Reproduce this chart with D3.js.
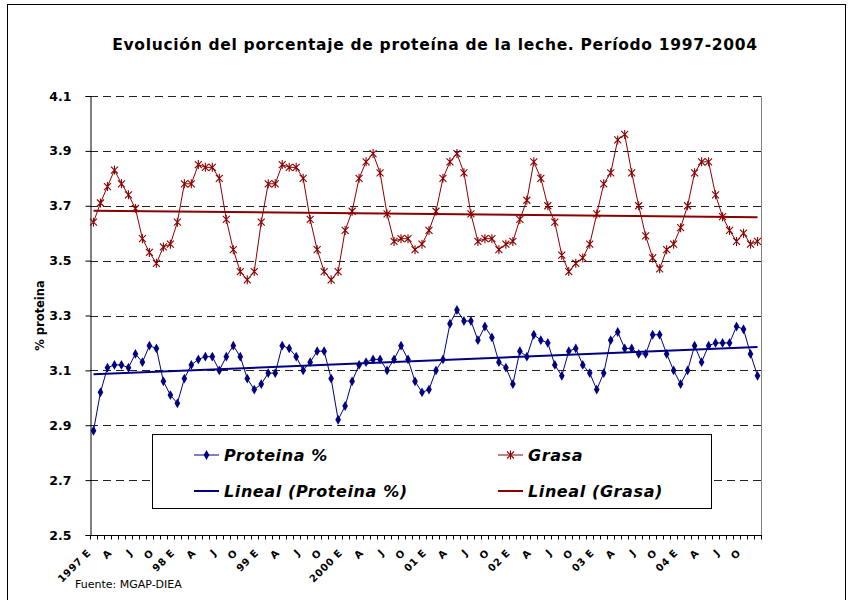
<!DOCTYPE html>
<html>
<head>
<meta charset="utf-8">
<script src="https://cdn.jsdelivr.net/npm/d3@7"></script>
<style>
  body { margin: 0; background: #fff; }
  svg { display: block; font-family: "DejaVu Sans", Verdana, sans-serif; }
</style>
</head>
<body>
<div id="chart"></div>
<script>
// monthly values, Jan 1997 .. Dec 2004
const proteina = [
  2.88, 3.02, 3.11, 3.12, 3.12, 3.11, 3.16, 3.13, 3.19, 3.18, 3.06, 3.01,
  2.98, 3.07, 3.12, 3.14, 3.15, 3.15, 3.10, 3.15, 3.19, 3.15, 3.07, 3.03,
  3.05, 3.09, 3.09, 3.19, 3.18, 3.15, 3.10, 3.13, 3.17, 3.17, 3.07, 2.92,
  2.97, 3.06, 3.12, 3.13, 3.14, 3.14, 3.10, 3.14, 3.19, 3.14, 3.06, 3.02,
  3.03, 3.10, 3.14, 3.27, 3.32, 3.28, 3.28, 3.21, 3.26, 3.22, 3.13, 3.11,
  3.05, 3.17, 3.15, 3.23, 3.21, 3.20, 3.12, 3.08, 3.17, 3.18, 3.12, 3.09,
  3.03, 3.09, 3.21, 3.24, 3.18, 3.18, 3.16, 3.16, 3.23, 3.23, 3.16, 3.10,
  3.05, 3.10, 3.19, 3.13, 3.19, 3.20, 3.20, 3.20, 3.26, 3.25, 3.16, 3.08
];
const grasa = [
  3.64, 3.71, 3.77, 3.83, 3.78, 3.74, 3.69, 3.58, 3.53, 3.49, 3.55, 3.56,
  3.64, 3.78, 3.78, 3.85, 3.84, 3.84, 3.80, 3.65, 3.54, 3.46, 3.43, 3.46,
  3.64, 3.78, 3.78, 3.85, 3.84, 3.84, 3.80, 3.65, 3.54, 3.46, 3.43, 3.46,
  3.61, 3.68, 3.80, 3.86, 3.89, 3.82, 3.67, 3.57, 3.58, 3.58, 3.54, 3.56,
  3.61, 3.68, 3.80, 3.86, 3.89, 3.82, 3.67, 3.57, 3.58, 3.58, 3.54, 3.56,
  3.57, 3.65, 3.72, 3.86, 3.80, 3.70, 3.64, 3.52, 3.46, 3.49, 3.51, 3.56,
  3.67, 3.78, 3.82, 3.94, 3.96, 3.82, 3.70, 3.59, 3.51, 3.47, 3.54, 3.56,
  3.62, 3.70, 3.82, 3.86, 3.86, 3.74, 3.66, 3.61, 3.57, 3.60, 3.56, 3.57
];
const xLabels = [
  '1997 E', 'A', 'J', 'O', '98 E', 'A', 'J', 'O', '99 E', 'A', 'J', 'O',
  '2000 E', 'A', 'J', 'O', '01 E', 'A', 'J', 'O', '02 E', 'A', 'J', 'O',
  '03 E', 'A', 'J', 'O', '04 E', 'A', 'J', 'O'
];
const yTicks = [2.5, 2.7, 2.9, 3.1, 3.3, 3.5, 3.7, 3.9, 4.1];
const legendItems = ['Proteina %', 'Grasa', 'Lineal (Proteina %)', 'Lineal (Grasa)'];

const W = 850, H = 600;
const plot = { left: 90, right: 761, top: 96, bottom: 535 };
const blue = '#000080', red = '#8b0000';

const svg = d3.select('#chart').append('svg')
  .attr('width', W).attr('height', H);

// chart frame
svg.append('rect')
  .attr('x', 7.5).attr('y', 4.5).attr('width', 838).attr('height', 640)
  .attr('fill', 'none').attr('stroke', '#000').attr('stroke-width', 1);

svg.append('text')
  .attr('x', 435).attr('y', 50)
  .attr('text-anchor', 'middle')
  .attr('font-size', 15.5).attr('font-weight', 'bold')
  .attr('letter-spacing', 0.7)
  .text('Evolución del porcentaje de proteína de la leche. Período 1997-2004');

const idx = d3.range(proteina.length);
const x = d3.scaleBand().domain(idx).range([plot.left, plot.right]);
const cx = i => x(i) + x.bandwidth() / 2;
const y = d3.scaleLinear().domain([2.5, 4.1]).range([plot.bottom, plot.top]);

// gridlines
svg.append('g')
  .selectAll('line')
  .data(yTicks.slice(1))
  .join('line')
  .attr('x1', plot.left).attr('x2', plot.right)
  .attr('y1', d => Math.round(y(d)) + 0.5).attr('y2', d => Math.round(y(d)) + 0.5)
  .attr('stroke', '#222').attr('stroke-dasharray', '8,5');

// right border of plot area
svg.append('line')
  .attr('x1', plot.right + 0.5).attr('x2', plot.right + 0.5)
  .attr('y1', plot.top).attr('y2', plot.bottom)
  .attr('stroke', '#808080');

// y axis
const yAxis = d3.axisLeft(y)
  .tickValues(yTicks)
  .tickFormat(d3.format('.1f'))
  .tickSize(5)
  .tickPadding(14);
const gy = svg.append('g')
  .attr('transform', `translate(${plot.left + 0.5},0)`)
  .call(yAxis);
gy.select('.domain').attr('stroke', '#000');
gy.selectAll('text')
  .attr('font-family', '"DejaVu Sans", Verdana, sans-serif')
  .attr('font-size', 12.5).attr('font-weight', 'bold').attr('fill', '#000');

svg.append('text')
  .attr('transform', `translate(44,${(plot.top + plot.bottom) / 2}) rotate(-90)`)
  .attr('text-anchor', 'middle')
  .attr('font-size', 11.5).attr('font-weight', 'bold')
  .text('% proteina');

// x axis
const gx = svg.append('g')
  .attr('transform', `translate(0,${plot.bottom + 0.5})`);
gx.append('line')
  .attr('x1', plot.left).attr('x2', plot.right + 1)
  .attr('stroke', '#000');
gx.selectAll('line.tick')
  .data(d3.range(proteina.length + 1))
  .join('line')
  .attr('class', 'tick')
  .attr('x1', i => Math.round(plot.left + i * x.step()) + 0.5)
  .attr('x2', i => Math.round(plot.left + i * x.step()) + 0.5)
  .attr('y1', 0).attr('y2', 4)
  .attr('stroke', '#000');
gx.selectAll('text')
  .data(xLabels)
  .join('text')
  .attr('transform', (d, k) => `translate(${cx(k * 3) - 2},18) rotate(-45)`)
  .attr('text-anchor', 'end')
  .attr('font-size', 10).attr('font-weight', 'bold')
  .attr('letter-spacing', 0.6)
  .text(d => d);

svg.append('text')
  .attr('x', 75).attr('y', 588)
  .attr('font-size', 11)
  .text('Fuente: MGAP-DIEA');

// linear trends (least squares on month index)
function trend(vals) {
  const n = vals.length;
  const mx = d3.mean(idx), my = d3.mean(vals);
  const b = d3.sum(idx, i => (i - mx) * (vals[i] - my)) / d3.sum(idx, i => (i - mx) ** 2);
  const a = my - b * mx;
  return [[0, a], [n - 1, a + b * (n - 1)]];
}

const line = d3.line().x(d => cx(d[0])).y(d => y(d[1]));
const series = v => v.map((d, i) => [i, d]);

const asterisk = 'M-3.5,-3.5L3.5,3.5M-3.5,3.5L3.5,-3.5M0,-4.5L0,4.5';
const diamond = d3.symbol(d3.symbolDiamond, 28)();

svg.append('path')
  .attr('d', line(series(grasa)))
  .attr('fill', 'none').attr('stroke', red).attr('stroke-width', 1);
svg.append('g').selectAll('path')
  .data(series(grasa))
  .join('path')
  .attr('transform', d => `translate(${cx(d[0])},${y(d[1])})`)
  .attr('d', asterisk)
  .attr('fill', 'none').attr('stroke', red).attr('stroke-width', 1.1);

svg.append('path')
  .attr('d', line(series(proteina)))
  .attr('fill', 'none').attr('stroke', blue).attr('stroke-width', 1);
svg.append('g').selectAll('path')
  .data(series(proteina))
  .join('path')
  .attr('transform', d => `translate(${cx(d[0])},${y(d[1])})`)
  .attr('d', diamond)
  .attr('fill', blue);

svg.append('path')
  .attr('d', line(trend(grasa)))
  .attr('fill', 'none').attr('stroke', red).attr('stroke-width', 2);
svg.append('path')
  .attr('d', line(trend(proteina)))
  .attr('fill', 'none').attr('stroke', blue).attr('stroke-width', 2);

// legend
const lg = svg.append('g').attr('transform', 'translate(152,434)');
lg.append('rect')
  .attr('x', 0.5).attr('y', 0.5).attr('width', 559).attr('height', 74)
  .attr('fill', '#fff').attr('stroke', '#000');
const pos = [[42, 21], [346, 21], [42, 57], [346, 57]];
const colors = [blue, red, blue, red];
legendItems.forEach((t, k) => {
  const g = lg.append('g').attr('transform', `translate(${pos[k][0]},${pos[k][1]})`);
  g.append('line')
    .attr('x1', 0).attr('x2', 25)
    .attr('stroke', colors[k]).attr('stroke-width', k < 2 ? 1 : 2);
  if (k === 0) g.append('path').attr('transform', 'translate(12.5,0)').attr('d', diamond).attr('fill', blue);
  if (k === 1) g.append('path').attr('transform', 'translate(12.5,0)').attr('d', asterisk)
    .attr('fill', 'none').attr('stroke', red).attr('stroke-width', 1.1);
  g.append('text')
    .attr('x', 30).attr('dy', '0.36em')
    .attr('font-size', 16).attr('font-weight', 'bold').attr('font-style', 'italic')
    .attr('letter-spacing', 0.6)
    .text(t);
});
</script>
</body>
</html>
